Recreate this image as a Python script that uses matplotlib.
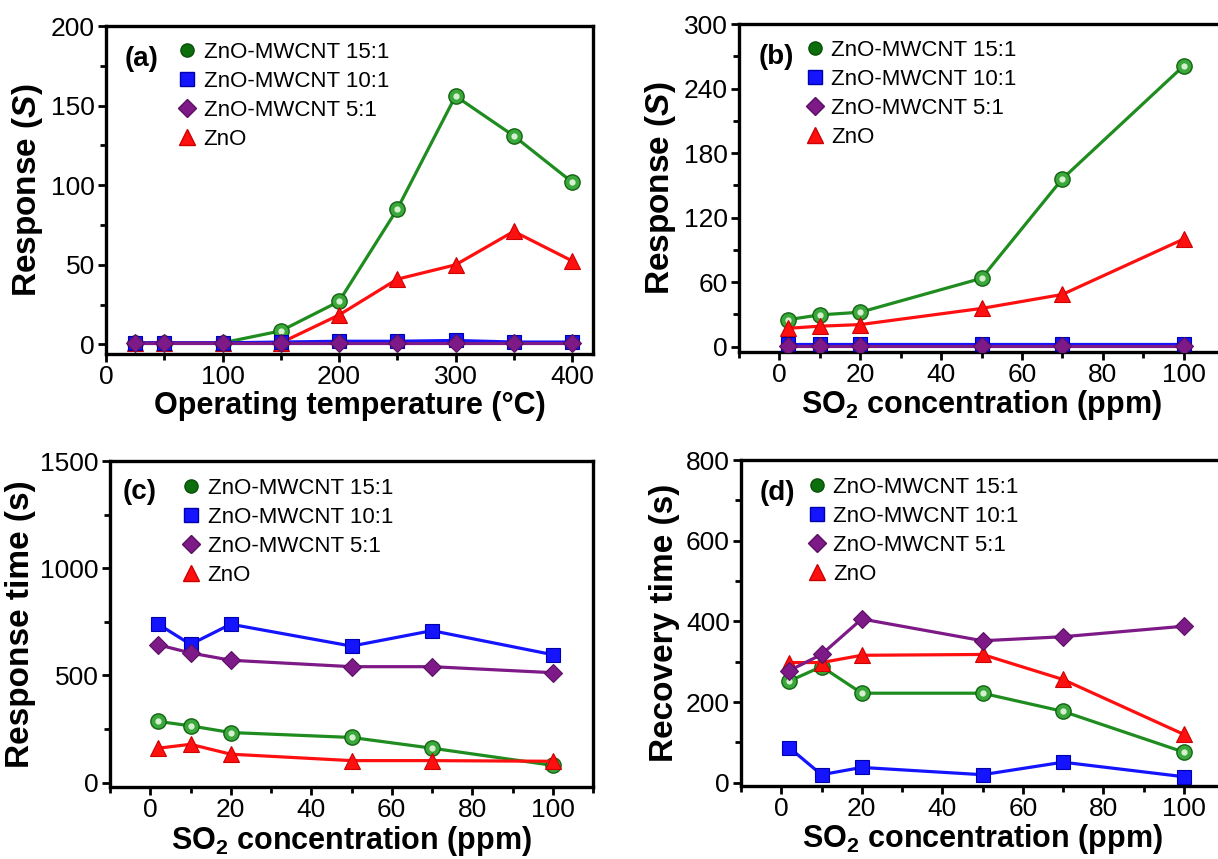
import numpy as np
import matplotlib
matplotlib.use("Agg")
import matplotlib.pyplot as plt
from matplotlib.lines import Line2D
from matplotlib.ticker import MultipleLocator

plt.rcParams['font.family'] = ['Liberation Sans', 'DejaVu Sans']
plt.rcParams['mathtext.fontset'] = 'custom'
plt.rcParams['mathtext.rm'] = 'Liberation Sans:bold'
plt.rcParams['mathtext.it'] = 'Liberation Sans:bold:italic'
plt.rcParams['mathtext.bf'] = 'Liberation Sans:bold'

# ================= DATA =================
series_names = ['ZnO-MWCNT 15:1', 'ZnO-MWCNT 10:1', 'ZnO-MWCNT 5:1', 'ZnO']

# (a) response vs operating temperature
temp_a = [25, 50, 100, 150, 200, 250, 300, 350, 400]
resp_a_15 = [1, 1, 1, 8.5, 27, 85, 156, 131, 102]
resp_a_10 = [1, 1, 1, 1.5, 2, 2, 2.5, 1.5, 1.5]
resp_a_5 = [1, 1, 1, 1, 1, 1, 1, 1, 1]
resp_a_zno = [1, 1, 1, 1, 18.5, 41, 50, 71, 52.5]

# shared SO2 concentrations for (b)-(d)
conc = [2, 10, 20, 50, 70, 100]

# (b) response vs SO2 concentration
resp_b_15 = [25, 29.5, 32, 63.5, 156, 261]
resp_b_10 = [2, 2, 2, 2, 2, 2]
resp_b_5 = [1, 1, 1, 1, 1, 1]
resp_b_zno = [17, 19, 20.5, 35.5, 48.5, 100]

# (c) response time
rt_15 = [286, 265, 234, 211, 161, 81]
rt_10 = [739, 645, 739, 637, 709, 597]
rt_5 = [643, 605, 571, 541, 541, 513]
rt_zno = [161, 179, 133, 103, 103, 100]

# (d) recovery time
rec_15 = [252, 288, 222, 222, 177, 76]
rec_10 = [87, 20, 38, 20, 51, 15]
rec_5 = [278, 318, 406, 352, 362, 388]
rec_zno = [298, 298, 316, 318, 256, 120]

# ================= STYLES =================
GREEN_LINE = '#1f8c1f'
GREEN_FACE = '#3aa83a'
GREEN_EDGE = '#136313'
BLUE = '#1414ff'
PURPLE = '#7d1a87'
RED = '#ff1010'
LW = 2.3


def draw_green(ax, x, y):
    ax.plot(x, y, '-', color=GREEN_LINE, lw=LW, marker='o', ms=11,
            mfc=GREEN_FACE, mec=GREEN_EDGE, mew=1.0, zorder=3)
    ax.plot(x, y, 'o', ms=4.5, mfc='#d6f0cf', mec='none', zorder=3.1)


def draw_panel(ax, x, y15, y10, y5, yzno):
    draw_green(ax, x, y15)
    ax.plot(x, yzno, '-', color=RED, lw=LW, marker='^', ms=11,
            mfc=RED, mec='#cc0000', mew=0.8, zorder=4)
    ax.plot(x, y10, '-', color=BLUE, lw=LW, marker='s', ms=9.5,
            mfc=BLUE, mec='#0000aa', mew=0.8, zorder=5)
    ax.plot(x, y5, '-', color=PURPLE, lw=LW, marker='D', ms=9,
            mfc=PURPLE, mec='#5a0f63', mew=0.8, zorder=6)


def style_axes(ax, xlim, ylim, xmin, ymin, xticks, yticks):
    ax.set_xlim(*xlim)
    ax.set_ylim(*ylim)
    ax.set_xticks(xticks)
    ax.set_yticks(yticks)
    ax.xaxis.set_minor_locator(MultipleLocator(xmin))
    ax.yaxis.set_minor_locator(MultipleLocator(ymin))
    for s in ax.spines.values():
        s.set_linewidth(2.4)
    ax.tick_params(which='major', direction='out', length=6, width=2,
                   labelsize=19, top=False, right=False, pad=2)
    ax.tick_params(which='minor', direction='out', length=4, width=2,
                   top=False, right=False)


def add_legend(ax, tag, tag_xy, leg_xy):
    ax.text(tag_xy[0], tag_xy[1], tag, transform=ax.transAxes,
            fontsize=20, fontweight='bold', ha='center', va='center')
    handles = [
        Line2D([], [], ls='none', marker='o', ms=9.5, mfc='#0d6e0d', mec='#0a500a'),
        Line2D([], [], ls='none', marker='s', ms=9.5, mfc=BLUE, mec='#0000aa'),
        Line2D([], [], ls='none', marker='D', ms=9, mfc=PURPLE, mec='#5a0f63'),
        Line2D([], [], ls='none', marker='^', ms=11, mfc=RED, mec='#cc0000'),
    ]
    ax.legend(handles, series_names, loc='upper left', bbox_to_anchor=leg_xy,
              frameon=False, fontsize=16, handlelength=0.8, handletextpad=0.35,
              labelspacing=0.36, borderpad=0, borderaxespad=0)


# ================= FIGURE =================
W, H = 1218, 859
fig = plt.figure(figsize=(W / 100, H / 100), dpi=100)


def px_axes(l, r, t, b):
    return fig.add_axes([l / W, 1 - b / H, (r - l) / W, (b - t) / H])


ax_a = px_axes(106, 593, 26, 354)
ax_b = px_axes(739, 1224, 24, 352)
ax_c = px_axes(110, 593, 461, 787)
ax_d = px_axes(741, 1224, 460, 786)

XL = 22
YL = 24

# (a)
draw_panel(ax_a, temp_a, resp_a_15, resp_a_10, resp_a_5, resp_a_zno)
style_axes(ax_a, (0, 418), (-6, 200), 50, 25,
           [0, 100, 200, 300, 400], [0, 50, 100, 150, 200])
ax_a.set_xlabel('Operating temperature (°C)', fontsize=XL, fontweight='bold', labelpad=1)
ax_a.set_ylabel('Response ($S$)', fontsize=YL, fontweight='bold', labelpad=4)
add_legend(ax_a, '(a)', (0.074, 0.90), (0.148, 0.951))

# (b)
draw_panel(ax_b, conc, resp_b_15, resp_b_10, resp_b_5, resp_b_zno)
style_axes(ax_b, (-10, 110), (-5, 300), 10, 30,
           [0, 20, 40, 60, 80, 100], [0, 60, 120, 180, 240, 300])
ax_b.set_xlabel('SO$_2$ concentration (ppm)', fontsize=XL, fontweight='bold', labelpad=1)
ax_b.set_ylabel('Response ($S$)', fontsize=YL, fontweight='bold', labelpad=4)
add_legend(ax_b, '(b)', (0.076, 0.90), (0.138, 0.951))

# (c)
draw_panel(ax_c, conc, rt_15, rt_10, rt_5, rt_zno)
style_axes(ax_c, (-10, 110), (-20, 1500), 10, 250,
           [0, 20, 40, 60, 80, 100], [0, 500, 1000, 1500])
ax_c.set_xlabel('SO$_2$ concentration (ppm)', fontsize=XL, fontweight='bold', labelpad=1)
ax_c.set_ylabel('Response time (s)', fontsize=YL, fontweight='bold', labelpad=3)
add_legend(ax_c, '(c)', (0.062, 0.905), (0.149, 0.948))

# (d)
draw_panel(ax_d, conc, rec_15, rec_10, rec_5, rec_zno)
style_axes(ax_d, (-10, 110), (-8, 800), 10, 100,
           [0, 20, 40, 60, 80, 100], [0, 200, 400, 600, 800])
ax_d.set_xlabel('SO$_2$ concentration (ppm)', fontsize=XL, fontweight='bold', labelpad=1)
ax_d.set_ylabel('Recovery time (s)', fontsize=YL, fontweight='bold', labelpad=4)
add_legend(ax_d, '(d)', (0.076, 0.90), (0.138, 0.948))

fig.savefig('out.png', dpi=100)
